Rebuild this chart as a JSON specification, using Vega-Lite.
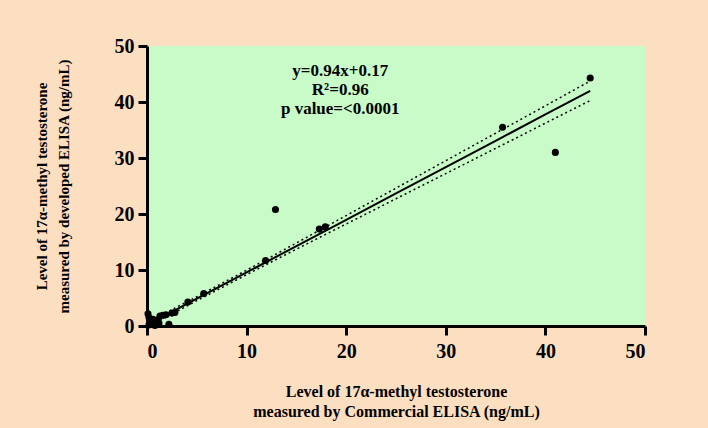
{
  "$schema": "https://vega.github.io/schema/vega-lite/v6.json",
  "autosize": "none",
  "width": 498,
  "height": 280,
  "padding": {"left": 147, "top": 46, "right": 63, "bottom": 102},
  "background": "#fcdfc1",
  "config": {
    "view": {"fill": "#c8fbc8", "stroke": null},
    "axis": {
      "grid": false,
      "domainColor": "black",
      "domainWidth": 3,
      "tickColor": "black",
      "tickWidth": 3,
      "tickSize": 9,
      "labelFont": "Liberation Serif",
      "labelFontWeight": "bold",
      "labelFontSize": 20,
      "labelColor": "black",
      "titleFont": "Liberation Serif",
      "titleFontWeight": "bold",
      "titleColor": "black"
    }
  },
  "datasets": {
    "pts": [
      {"x": 44.5, "y": 44.3}, {"x": 35.7, "y": 35.5}, {"x": 41.0, "y": 31.0},
      {"x": 12.9, "y": 20.8}, {"x": 17.3, "y": 17.3}, {"x": 17.9, "y": 17.7},
      {"x": 11.9, "y": 11.7}, {"x": 5.7, "y": 5.8}, {"x": 4.1, "y": 4.3},
      {"x": 0.1, "y": 2.2}, {"x": 0.2, "y": 1.5}, {"x": 0.3, "y": 0.8},
      {"x": 0.5, "y": 0.3}, {"x": 0.8, "y": 0.1}, {"x": 1.0, "y": 1.0},
      {"x": 1.3, "y": 1.8}, {"x": 1.6, "y": 1.9}, {"x": 1.9, "y": 2.0},
      {"x": 2.2, "y": 0.3}, {"x": 2.5, "y": 2.3}, {"x": 2.8, "y": 2.4},
      {"x": 0.6, "y": 1.2}, {"x": 1.2, "y": 0.5}, {"x": 0.2, "y": 0.2}
    ],
    "fit": [
      {"x": 0, "fit": 0.17, "lo": -0.28, "hi": 0.62},
      {"x": 5, "fit": 4.87, "lo": 4.52, "hi": 5.22},
      {"x": 10, "fit": 9.57, "lo": 9.17, "hi": 9.97},
      {"x": 15, "fit": 14.27, "lo": 13.72, "hi": 14.82},
      {"x": 20, "fit": 18.97, "lo": 18.22, "hi": 19.72},
      {"x": 25, "fit": 23.67, "lo": 22.72, "hi": 24.62},
      {"x": 30, "fit": 28.37, "lo": 27.22, "hi": 29.52},
      {"x": 35, "fit": 33.07, "lo": 31.72, "hi": 34.42},
      {"x": 40, "fit": 37.77, "lo": 36.22, "hi": 39.32},
      {"x": 44.5, "fit": 42.0, "lo": 40.25, "hi": 43.75}
    ],
    "notes": [
      {"x": 19.4, "y": 45.5, "t": "y=0.94x+0.17"},
      {"x": 19.4, "y": 42.1, "t": "R²=0.96"},
      {"x": 19.4, "y": 38.8, "t": "p value=<0.0001"}
    ]
  },
  "layer": [
    {
      "data": {"name": "fit"},
      "mark": {"type": "line", "color": "black", "strokeWidth": 1.5, "strokeDash": [2, 3]},
      "encoding": {
        "x": {"field": "x", "type": "quantitative", "scale": {"domain": [0, 50], "nice": false},
          "axis": {"values": [0, 10, 20, 30, 40, 50], "labelPadding": 6, "titleFontSize": 16, "titleLineHeight": 20,
            "title": ["Level of 17α-methyl testosterone", "measured by Commercial ELISA (ng/mL)"], "titlePadding": 22}},
        "y": {"field": "lo", "type": "quantitative", "scale": {"domain": [0, 50], "nice": false},
          "axis": {"values": [0, 10, 20, 30, 40, 50], "labelPadding": 4, "titleFontSize": 15, "titleLineHeight": 22,
            "title": ["Level of 17α-methyl testosterone", "measured by developed ELISA (ng/mL)"], "titlePadding": 43}}
      }
    },
    {
      "data": {"name": "fit"},
      "mark": {"type": "line", "color": "black", "strokeWidth": 1.5, "strokeDash": [2, 3]},
      "encoding": {
        "x": {"field": "x", "type": "quantitative"},
        "y": {"field": "hi", "type": "quantitative"}
      }
    },
    {
      "data": {"name": "fit"},
      "mark": {"type": "line", "color": "black", "strokeWidth": 2},
      "encoding": {
        "x": {"field": "x", "type": "quantitative"},
        "y": {"field": "fit", "type": "quantitative"}
      }
    },
    {
      "data": {"name": "pts"},
      "mark": {"type": "circle", "color": "black", "opacity": 1, "size": 50},
      "encoding": {
        "x": {"field": "x", "type": "quantitative"},
        "y": {"field": "y", "type": "quantitative"}
      }
    },
    {
      "data": {"name": "notes"},
      "mark": {"type": "text", "font": "Liberation Serif", "fontWeight": "bold", "fontSize": 17, "color": "black", "align": "center", "baseline": "middle"},
      "encoding": {
        "x": {"field": "x", "type": "quantitative"},
        "y": {"field": "y", "type": "quantitative"},
        "text": {"field": "t"}
      }
    }
  ]
}
